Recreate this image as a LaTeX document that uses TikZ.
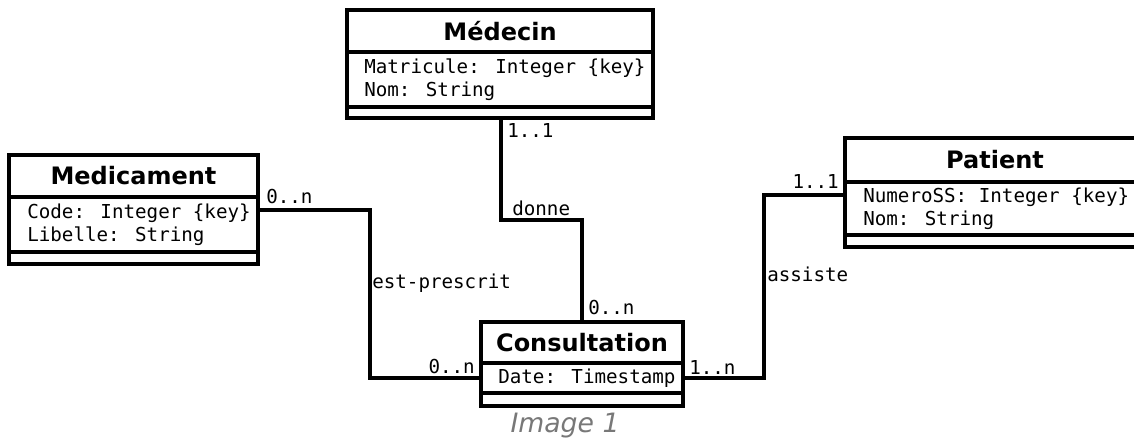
\documentclass[tikz,border=0pt]{standalone}
\usepackage{fontspec}
\setmainfont{DejaVu Sans}
\newfontfamily\monof{DejaVu Sans Mono}
\begin{document}
\begin{tikzpicture}[x=0.75pt,y=-0.75pt,
  classbox/.style={draw=black,line width=3pt,rectangle,inner sep=0pt,fill=white},
  sepline/.style={line width=2.6pt},
  conn/.style={line width=2.4pt},
  title/.style={font=\fontsize{18pt}{21pt}\selectfont\bfseries,inner sep=0pt},
  attrs/.style={font=\monof\fontsize{14.4pt}{17.25pt}\selectfont,align=left,anchor=west,inner sep=0pt},
  lbl/.style={font=\monof\fontsize{14.4pt}{17.25pt}\selectfont,inner sep=0pt},
  caption/.style={font=\fontsize{20pt}{24pt}\selectfont\itshape,text=black!53,inner sep=0pt}]
\useasboundingbox (0,0) rectangle (1134,439);
\fill[white] (0,0) rectangle (1134,439);
\clip (0,0) rectangle (1134,439);

% connector bends
\coordinate (dk) at (501,220);
\coordinate (ek) at (370,378);
\coordinate (ak) at (764,378);

% classes
\node[classbox,minimum width=229.5pt,minimum height=81pt] (med) at (500,64) {};
\draw[sepline] (med.west |- 0,52) -- (med.east |- 0,52);
\draw[sepline] (med.west |- 0,107) -- (med.east |- 0,107);
\node[title] (medt) at (500,31) {Médecin};
\node[attrs] (meda) at (364,79.5) {Matricule: Integer \{key\}\\Nom: String};

\node[classbox,minimum width=186.75pt,minimum height=81.75pt] (medi) at (133.5,209.5) {};
\draw[sepline] (medi.west |- 0,197) -- (medi.east |- 0,197);
\draw[sepline] (medi.west |- 0,252) -- (medi.east |- 0,252);
\node[title] (medit) at (133.5,176) {Medicament};
\node[attrs] (media) at (27,224.5) {Code: Integer \{key\}\\Libelle: String};

\node[classbox,minimum width=228.75pt,minimum height=81.75pt] (pat) at (997.5,192.5) {};
\draw[sepline] (pat.west |- 0,182) -- (pat.east |- 0,182);
\draw[sepline] (pat.west |- 0,235) -- (pat.east |- 0,235);
\node[title] (patt) at (995,160) {Patient};
\node[attrs] (pata) at (863,208.5) {NumeroSS: Integer \{key\}\\Nom: String};

\node[classbox,minimum width=151.5pt,minimum height=63pt] (cons) at (582,364) {};
\draw[sepline] (cons.west |- 0,363) -- (cons.east |- 0,363);
\draw[sepline] (cons.west |- 0,393) -- (cons.east |- 0,393);
\node[title] (const) at (582,342.5) {Consultation};
\node[attrs] (consa) at (498,378) {Date: Timestamp};

% connector lines
\draw[conn] (med.south -| dk) -- (dk) -| (cons.north);
\draw[conn] (medi.east |- 0,210) -| (ek) -- (cons.west |- ek);
\draw[conn] (pat.west |- 0,195) -| (ak) -- (cons.east |- ak);

% labels
\node[lbl,anchor=west] (l1) at (507,131) {1..1};
\node[lbl,anchor=west] (l2) at (512,208) {donne};
\node[lbl,anchor=west] (l3) at (588,308) {0..n};
\node[lbl,anchor=west] (l4) at (266,197) {0..n};
\node[lbl,anchor=west] (l5) at (372,283) {est-prescrit};
\node[lbl,anchor=east] (l6) at (475,367) {0..n};
\node[lbl,anchor=west] (l7) at (689,367) {1..n};
\node[lbl,anchor=east] (l8) at (839,181) {1..1};
\node[lbl,anchor=west] (l9) at (767,274) {assiste};

\node[caption] (cap) at (565,426) {Image 1};
\end{tikzpicture}
\end{document}
